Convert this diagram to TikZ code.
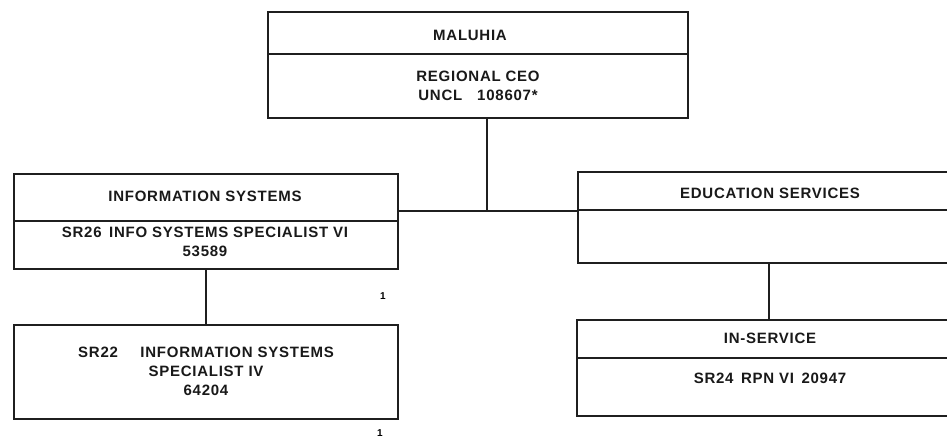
\documentclass[tikz,border=0pt]{standalone}
\usepackage{fontspec}
\setmainfont{Liberation Sans}[LetterSpace=5]
\begin{document}
\begin{tikzpicture}[x=1pt,y=-1pt,
  box/.style={draw=black!88, line width=1.4pt, rectangle, inner sep=0pt},
  lbl/.style={font=\fontsize{15}{19}\selectfont\bfseries, align=center, inner sep=0pt, text=black!90},
  conn/.style={draw=black!88, line width=1.3pt},
  mark1/.style={font=\fontsize{10}{11}\selectfont\bfseries, inner sep=0pt}]
\useasboundingbox (0,0) rectangle (947,438);
\fill[white] (0,0) rectangle (947,438);
\clip (0,0) rectangle (947,438);
% boxes
\node[box, minimum width=420pt, minimum height=106pt] (ceo) at (478,65) {};
\node[box, minimum width=384pt, minimum height=95pt] (info) at (206,221.5) {};
\node[box, minimum width=384pt, minimum height=94pt] (isp) at (206,372) {};
\node[box, minimum width=422pt, minimum height=91pt] (edu) at (789,217.5) {};
\node[box, minimum width=423pt, minimum height=96pt] (ins) at (788.5,368) {};
% dividers
\draw[conn] (ceo.west |- 0,54) -- (ceo.east |- 0,54);
\draw[conn] (info.west |- 0,221) -- (info.east |- 0,221);
\draw[conn] (edu.west |- 0,210) -- (edu.east |- 0,210);
\draw[conn] (ins.west |- 0,358) -- (ins.east |- 0,358);
% texts
\node[lbl] (t1) at (470,35) {MALUHIA};
\node[lbl] (t2) at (478,86) {REGIONAL CEO\\UNCL\quad 108607*};
\node[lbl] (t3) at (205,196) {INFORMATION SYSTEMS};
\node[lbl] (t4) at (205,242) {SR26\enspace INFO SYSTEMS SPECIALIST VI\\53589};
\node[lbl] (t5) at (206,371) {SR22\quad\enspace INFORMATION SYSTEMS\\SPECIALIST IV\\64204};
\node[lbl] (t6) at (770,193) {EDUCATION SERVICES};
\node[lbl] (t7) at (770,338) {IN-SERVICE};
\node[lbl] (t8) at (770,378) {SR24\enspace RPN VI\enspace 20947};
\node[mark1] (m1) at (383,296) {1};
\node[mark1] (m2) at (380,433) {1};
% connectors
\coordinate (j) at (487,211);
\coordinate (ek) at (769,263);
\draw[conn] (j |- ceo.south) -- (j);
\draw[conn] (info.east |- j) -- (edu.west |- j);
\draw[conn] (info.south) -- (isp.north);
\draw[conn] (ek) -- (ek |- ins.north);
\end{tikzpicture}
\end{document}
